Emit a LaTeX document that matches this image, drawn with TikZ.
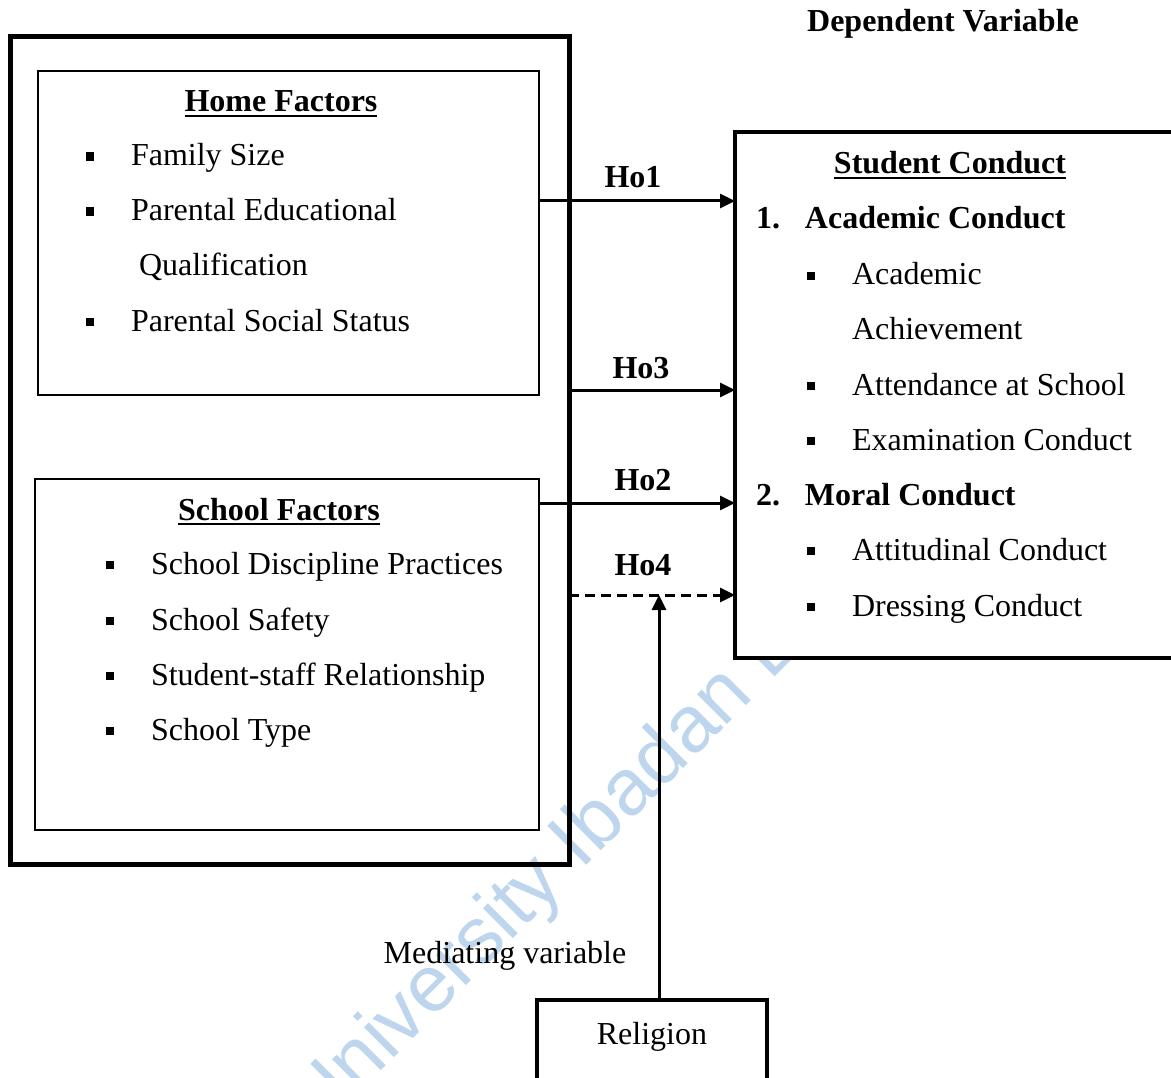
\documentclass[tikz,border=0pt]{standalone}
\usepackage{fontspec}
\setmainfont{Liberation Serif}
\newfontfamily\wmfont{Liberation Sans}
\usetikzlibrary{arrows.meta}
\definecolor{wmblue}{RGB}{189,214,238}

% small square bullet, 37pt before the item text
\newcommand\sqbullet{\llap{\raisebox{5pt}{\rule{8.5pt}{8.5pt}}\hspace{37pt}}}
% bold heading with a heavy underline
\newcommand\ulhead[1]{\setbox0\hbox{\bfseries #1}\rlap{\rule[-5pt]{\wd0}{1.8pt}}\box0}

\begin{document}
\begin{tikzpicture}[x=1pt,y=-1pt,
  every node/.style={inner sep=0pt,outer sep=0pt},
  txt/.style={font=\fontsize{32}{38}\selectfont,anchor=base west},
  ctxt/.style={font=\fontsize{32}{38}\selectfont,anchor=base},
  btxt/.style={font=\fontsize{32}{38}\selectfont\bfseries,anchor=base},
  heavybox/.style={draw,line width=5pt,anchor=north west},
  thinbox/.style={draw,line width=1.6pt,anchor=north west},
  outbox/.style={draw,fill=white,line width=4pt,anchor=north west},
  link/.style={line width=3pt,-{Triangle[length=15pt,width=14pt]}},
  dlink/.style={link,dash pattern=on 10pt off 6pt}]

\useasboundingbox (0,0) rectangle (1171,1078);
\fill[white] (0,0) rectangle (1171,1078);

% watermark
\node[rotate=45,anchor=base west,text=wmblue,
  font=\wmfont\fontsize{80}{80}\selectfont] (wm) at (318,1134) {University Ibadan D};

% independent variables
\node[heavybox,minimum width=559pt,minimum height=827pt] (outer) at (10,37) {};
\node[thinbox,minimum width=501pt,minimum height=324pt] (home) at (38,71) {};
\node[thinbox,minimum width=504pt,minimum height=351pt] (school) at (35,479) {};

\node[btxt] (homet) at (281,112) {\ulhead{Home Factors}};
\node[txt] (h1) at (131,166) {\sqbullet Family Size};
\node[txt] (h2) at (131,221) {\sqbullet Parental Educational};
\node[txt] (h3) at (139,276) {Qualification};
\node[txt] (h4) at (131,331) {\sqbullet Parental Social Status};

\node[btxt] (schoolt) at (279,520) {\ulhead{School Factors}};
\node[txt] (s1) at (151,574) {\sqbullet School Discipline Practices};
\node[txt] (s2) at (151,630) {\sqbullet School Safety};
\node[txt] (s3) at (151,685) {\sqbullet Student-staff Relationship};
\node[txt] (s4) at (151,740) {\sqbullet School Type};

% dependent variable
\node[btxt] (dvt) at (943,32) {Dependent Variable};
\node[outbox,minimum width=460pt,minimum height=526pt] (dep) at (735,132) {};
\node[btxt] (dept) at (950,174) {\ulhead{Student Conduct}};
\node[txt,font=\fontsize{32}{38}\selectfont\bfseries] (d1) at (805,229) {\llap{1.\hspace{25pt}}Academic Conduct};
\node[txt] (d11) at (852,285) {\sqbullet Academic};
\node[txt] (d11b) at (852,340) {Achievement};
\node[txt] (d12) at (852,395) {\sqbullet Attendance at School};
\node[txt] (d13) at (852,450) {\sqbullet Examination Conduct};
\node[txt,font=\fontsize{32}{38}\selectfont\bfseries] (d2) at (805,505) {\llap{2.\hspace{25pt}}Moral Conduct};
\node[txt] (d21) at (852,560) {\sqbullet Attitudinal Conduct};
\node[txt] (d22) at (852,616) {\sqbullet Dressing Conduct};

% mediating variable
\node[ctxt] (medt) at (505,963) {Mediating variable};
\node[outbox,minimum width=230pt,minimum height=110pt] (rel) at (537,1000) {};
\node[ctxt] (relt) at (652,1044) {Religion};

% hypotheses
\coordinate (y1) at (0,201);
\coordinate (y3) at (0,390);
\coordinate (y2) at (0,503);
\coordinate (y4) at (0,595);
\coordinate (vx) at (659,0);

\draw[link] (y1 -| home.east) -- (y1 -| dep.west);
\draw[link] ([xshift=3pt]y3 -| outer.east) -- (y3 -| dep.west);
\draw[link] (y2 -| school.east) -- (y2 -| dep.west);
\draw[dlink] (y4 -| outer.east) -- (y4 -| dep.west);
\draw[link] (vx |- rel.north) -- (vx |- y4);

\node[btxt] (l1) at (633,188) {Ho1};
\node[btxt] (l3) at (641,378) {Ho3};
\node[btxt] (l2) at (643,490) {Ho2};
\node[btxt] (l4) at (643,575) {Ho4};
\end{tikzpicture}
\end{document}
